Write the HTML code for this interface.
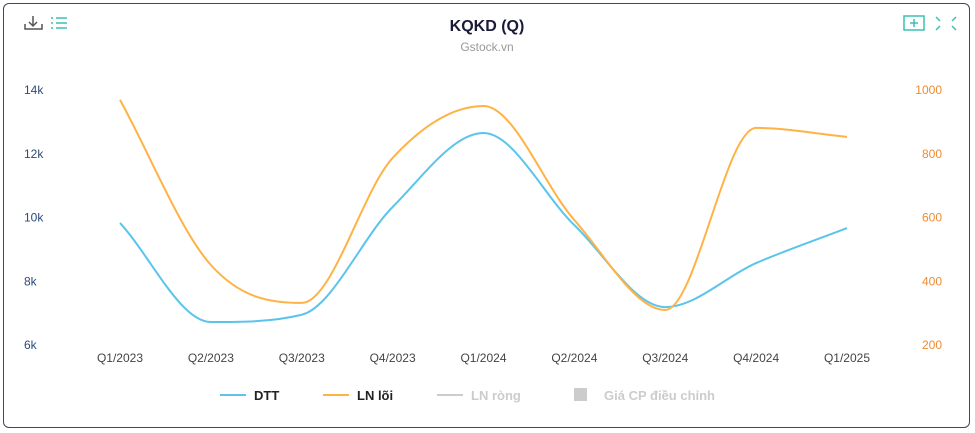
<!DOCTYPE html>
<html><head><meta charset="utf-8"><style>
html,body{margin:0;padding:0;background:#fff;}
body{width:975px;height:433px;overflow:hidden;font-family:"Liberation Sans","Noto Sans CJK SC",sans-serif;}
#frame{position:absolute;left:3px;top:3px;width:967px;height:425px;border:1.5px solid #4a4060;border-radius:6px;box-sizing:border-box;}
</style></head><body>
<div id="frame"></div>
<svg id="chart" width="975" height="433" style="position:absolute;left:0;top:0">
 <text x="487" y="31" text-anchor="middle" font-size="16" font-weight="bold" fill="#1a1a3a">KQKD (Q)</text>
 <text x="487" y="51" text-anchor="middle" font-size="12" fill="#999">Gstock.vn</text>
 <g stroke="#555" stroke-width="1.5" fill="none">
  <path d="M33 16 v10 M29 22 l4 4 l4 -4 M25 24 v5 h17 v-5"/>
 </g>
 <g stroke="#3cc0b0" stroke-width="1.5">
  <path d="M51 18h2 M56 18h11 M51 23h2 M56 23h11 M51 28h2 M56 28h11"/>
 </g>
 <g stroke="#3cc0b0" stroke-width="1.5" fill="none">
  <rect x="904" y="16" width="20" height="14"/><path d="M914 19v8 M910 23h8"/>
 </g>
 <g stroke="#3cc0b0" stroke-width="1.5" fill="none">
  <path d="M936 17l4 4 M956 17l-4 4 M936 30l4 -4 M956 30l-4 -4"/>
 </g>
 <g id="axes"></g>
 <g id="series"></g>
 <g font-size="13" font-weight="bold">
  <g><line x1="220" y1="395" x2="246" y2="395" stroke="#5bc4ec" stroke-width="2"/><text x="254" y="400" fill="#222">DTT</text></g>
  <g><line x1="323" y1="395" x2="349" y2="395" stroke="#ffb245" stroke-width="2"/><text x="357" y="400" fill="#222">LN lõi</text></g>
  <g><line x1="437" y1="395" x2="463" y2="395" stroke="#ccc" stroke-width="2"/><text x="471" y="400" fill="#ccc">LN ròng</text></g>
  <g><rect x="574" y="388" width="13" height="13" fill="#ccc"/><text x="604" y="400" fill="#ccc">Giá CP điều chỉnh</text></g>
 </g>
</svg>
<script>
const categories=["Q1/2023","Q2/2023","Q3/2023","Q4/2023","Q1/2024","Q2/2024","Q3/2024","Q4/2024","Q1/2025"];
const dttValues=[9.83,6.72,6.95,10.33,12.65,9.76,7.19,8.57,9.67];
const lnLoiValues=[969,451,332,787,950,592,310,881,853];
const leftTicks=[6,8,10,12,14];
const rightTicks=[200,400,600,800,1000];
const NS="http://www.w3.org/2000/svg";
const x0=120,x1=847,yTop=90,yBot=345;
function xScale(i){return x0+(x1-x0)*i/(categories.length-1);}
function yLeft(v){return yBot-(v-6)/(14-6)*(yBot-yTop);}
function yRight(v){return yBot-(v-200)/(1000-200)*(yBot-yTop);}
function el(tag,attrs,parent){const e=document.createElementNS(NS,tag);for(const k in attrs)e.setAttribute(k,attrs[k]);parent.appendChild(e);return e;}
const axes=document.getElementById('axes');
leftTicks.forEach(t=>{const e=el('text',{x:24,y:yLeft(t)+4,'font-size':12,fill:'#2c4a7a'},axes);e.textContent=t+'k';

});
rightTicks.forEach(t=>{const e=el('text',{x:942,y:yRight(t)+4,'font-size':12,fill:'#f08a30','text-anchor':'end'},axes);e.textContent=t;

});
categories.forEach((c,i)=>{const e=el('text',{x:xScale(i),y:362,'font-size':12,fill:'#444','text-anchor':'middle'},axes);e.textContent=c;

});
function monotonePath(pts){
 const n=pts.length,d=[],m=[];
 for(let i=0;i<n-1;i++)d.push((pts[i+1][1]-pts[i][1])/(pts[i+1][0]-pts[i][0]));
 m[0]=d[0];m[n-1]=d[n-2];
 for(let i=1;i<n-1;i++)m[i]=(d[i-1]*d[i]<=0)?0:(d[i-1]+d[i])/2;
 for(let i=0;i<n-1;i++){if(d[i]===0){m[i]=m[i+1]=0;continue;}const a=m[i]/d[i],b=m[i+1]/d[i],s=a*a+b*b;if(s>9){const t=3/Math.sqrt(s);m[i]=t*a*d[i];m[i+1]=t*b*d[i];}}
 let p='M'+pts[0][0]+','+pts[0][1];
 for(let i=0;i<n-1;i++){const h=(pts[i+1][0]-pts[i][0])/3;p+=' C'+(pts[i][0]+h)+','+(pts[i][1]+m[i]*h)+' '+(pts[i+1][0]-h)+','+(pts[i+1][1]-m[i+1]*h)+' '+pts[i+1][0]+','+pts[i+1][1];}
 return p;}
const series=document.getElementById('series');
const p1=el('path',{d:monotonePath(dttValues.map((v,i)=>[xScale(i),yLeft(v)])),fill:'none',stroke:'#5bc4ec','stroke-width':2},series);


const p2=el('path',{d:monotonePath(lnLoiValues.map((v,i)=>[xScale(i),yRight(v)])),fill:'none',stroke:'#ffb245','stroke-width':2},series);


</script>
</body></html>
